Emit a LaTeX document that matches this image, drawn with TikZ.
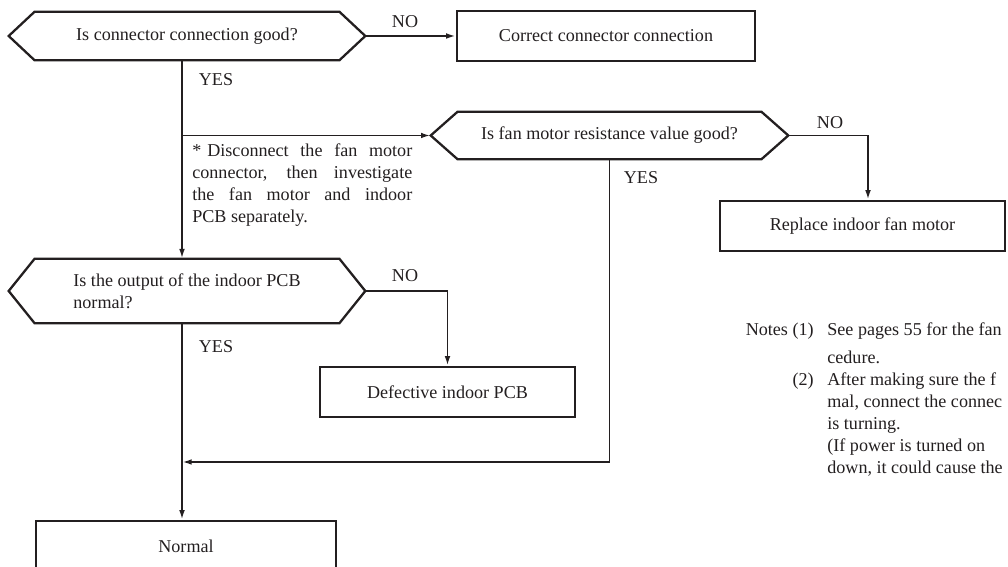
\documentclass[tikz,border=0pt]{standalone}
\usepackage{fontspec}
\setmainfont{Liberation Serif}
\usetikzlibrary{arrows.meta,positioning}
\definecolor{ink}{RGB}{35,31,32}
\tikzset{
  flow/.style={draw=ink, line width=1.1pt, -{Latex[length=5.5pt,width=3.2pt]}},
  actbox/.style={draw=ink, line width=1.3pt, minimum height=1cm, inner sep=0pt},
  askbox/.style={inner sep=0pt, minimum height=0.96cm},
  tag/.style={inner sep=0pt, text=ink},
}
% hexagon drawn round a decision node
\newcommand\hexa[2]{%
  \draw[draw=ink, line width=1.3pt, line join=miter] (#1.west) -- ([xshift=#2]#1.north west)
    -- ([xshift=-#2]#1.north east) -- (#1.east) -- ([xshift=-#2]#1.south east)
    -- ([xshift=#2]#1.south west) -- cycle;}
\begin{document}
\begin{tikzpicture}[x=0.02cm, y=-0.02cm, font=\fontsize{10.3}{12.4}\selectfont, text=ink]
    \useasboundingbox (0,0) rectangle (1008,567);
    \coordinate (trunk) at (182,0);
    \coordinate (join) at (182,462);
    % questions and actions
    \node[askbox, minimum width=7.12cm] (q1) at (187,36) {Is connector connection good?};
    \hexa{q1}{0.52cm}
    \node[actbox, minimum width=5.96cm] (corr) at (606,36) {Correct connector connection};
    \node[askbox, minimum width=7.14cm, minimum height=0.94cm] (q2) at (609.5,135.5) {Is fan motor resistance value good?};
    \hexa{q2}{0.54cm}
    \node[actbox, minimum width=5.7cm] (repl) at (862.5,226) {Replace indoor fan motor};
    \node[askbox, minimum width=7.12cm, minimum height=1.28cm, align=left] (q3) at (187,291) {Is the output of the indoor PCB\\normal?};
    \hexa{q3}{0.52cm}
    \node[actbox, minimum width=5.1cm] (defe) at (447.5,392) {Defective indoor PCB};
    \node[actbox, minimum width=6cm] (nrm) at (186,546) {Normal};
    % connectors
    \draw[flow] (q1.east) -- (corr.west);
    \draw[flow] (q1.south -| trunk) -- (q3.north -| trunk);
    \draw[flow] (q2.west -| trunk) -- (q2.west);
    \draw[flow] (q2.east) -| ([xshift=0.11cm]repl.north);
    \draw[flow] (q2.south) |- (join);
    \draw[flow] (q3.east) -| (defe.north);
    \draw[flow] (q3.south -| trunk) -- (nrm.north -| trunk);
    % yes / no
    \node[tag] (no1) at (405,22) {NO};
    \node[tag] (yes1) at (216,80) {YES};
    \node[tag] (no2) at (830,123) {NO};
    \node[tag] (yes2) at (641,178) {YES};
    \node[tag] (no3) at (405,276) {NO};
    \node[tag] (yes3) at (216,347) {YES};
    % remark on the branch
    \node[tag, text width=4.4cm, align=justify, anchor=west] (hint) at (192,185)
      {\noindent\hangindent=0.3cm\hangafter=1\makebox[0.3cm][l]{*}Disconnect the fan motor\linebreak
       connector, then investigate\linebreak the fan motor and indoor\linebreak PCB separately.};
    % notes
    \node[tag, anchor=base east] (n1) at (814,336) {Notes (1)};
    \node[tag, anchor=base east] (n2) at (814,386) {(2)};
    \foreach \y/\t [count=\i] in {336/{See pages 55 for the fan}, 364/{cedure.},
        386/{After making sure the f}, 408/{mal, connect the connec}, 430/{is turning.},
        452/{(If power is turned on}, 474/{down, it could cause the}}
      \node[tag, anchor=base west] (nl\i) at (827,\y) {\t};
  \end{tikzpicture}
\end{document}
